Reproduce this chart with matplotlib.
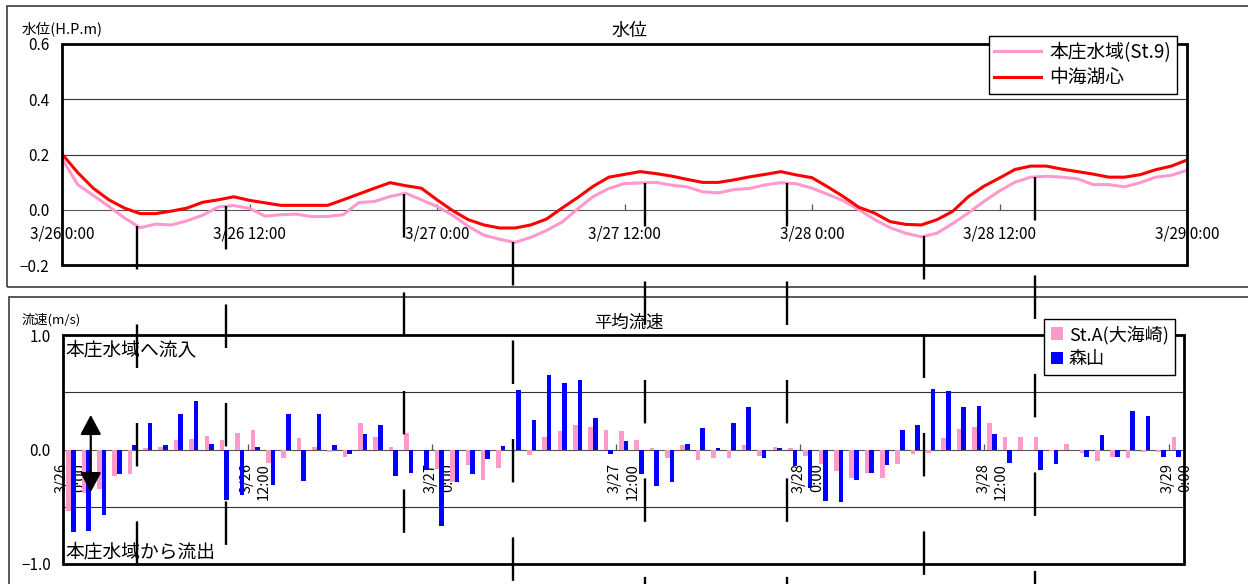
import numpy as np
import matplotlib
matplotlib.use("Agg")
import matplotlib.pyplot as plt
from matplotlib.patches import Rectangle, FancyArrowPatch
from matplotlib.lines import Line2D

plt.rcParams["font.family"] = ["Noto Sans CJK JP", "DejaVu Sans"]
plt.rcParams["lines.scale_dashes"] = False

# ---- water level (H.P. m), hourly from 3/26 0:00 to 3/29 0:00 ----
hours = np.arange(73)
honjo_level = [
    0.185, 0.091, 0.052, 0.012, -0.030, -0.065, -0.052, -0.055, -0.040, -0.020,
    0.010, 0.015, 0.005, -0.023, -0.018, -0.016, -0.025, -0.024, -0.018, 0.026,
    0.030, 0.048, 0.060, 0.036, 0.012, -0.020, -0.060, -0.092, -0.107, -0.118,
    -0.100, -0.075, -0.045, 0.003, 0.048, 0.077, 0.095, 0.097, 0.099, 0.089,
    0.083, 0.065, 0.061, 0.073, 0.077, 0.090, 0.098, 0.094, 0.078, 0.056,
    0.033, 0.000, -0.035, -0.065, -0.085, -0.098, -0.085, -0.050, -0.012, 0.030,
    0.068, 0.100, 0.118, 0.121, 0.118, 0.112, 0.091, 0.091, 0.083, 0.098,
    0.118, 0.125, 0.143,
]
nakaumi_level = [
    0.202, 0.135, 0.078, 0.036, 0.006, -0.014, -0.014, -0.005, 0.006, 0.027,
    0.036, 0.047, 0.034, 0.025, 0.016, 0.016, 0.016, 0.016, 0.036, 0.057,
    0.078, 0.098, 0.087, 0.078, 0.036, -0.003, -0.036, -0.055, -0.066, -0.066,
    -0.055, -0.034, 0.006, 0.044, 0.085, 0.118, 0.128, 0.138, 0.131, 0.122,
    0.110, 0.099, 0.099, 0.108, 0.119, 0.128, 0.138, 0.126, 0.116, 0.083,
    0.048, 0.009, -0.012, -0.043, -0.053, -0.055, -0.036, -0.006, 0.047, 0.085,
    0.115, 0.146, 0.158, 0.158, 0.147, 0.138, 0.129, 0.118, 0.118, 0.127,
    0.145, 0.158, 0.180,
]
level_ticks = [0, 12, 24, 36, 48, 60, 72]
level_tick_labels = ["3/26 0:00", "3/26 12:00", "3/27 0:00", "3/27 12:00",
                     "3/28 0:00", "3/28 12:00", "3/29 0:00"]
level_yticks = [-0.2, 0.0, 0.2, 0.4, 0.6]
level_ytick_labels = ["\u22120.2", "0.0", "0.2", "0.4", "0.6"]

# ---- mean flow velocity (m/s), hourly ----
st_a_flow = [
    -0.535, -0.376, -0.347, -0.231, -0.211, 0.014, 0.020, 0.087, 0.095, 0.116,
    0.084, 0.145, 0.173, -0.116, -0.078, 0.101, 0.026, -0.020, -0.066, 0.230,
    0.110, 0.026, 0.146, 0.000, -0.173, -0.280, -0.136, -0.263, -0.159, 0.000,
    -0.050, 0.107, 0.160, 0.217, 0.197, 0.172, 0.165, 0.087, 0.014, -0.073,
    0.043, -0.090, -0.078, -0.075, 0.038, -0.058, 0.020, 0.009, -0.058, -0.130,
    -0.188, -0.246, -0.205, -0.246, -0.130, -0.038, -0.029, 0.101, 0.179, 0.199,
    0.231, 0.113, 0.113, 0.113, -0.014, 0.049, -0.029, -0.101, -0.066, -0.072,
    -0.023, -0.020, 0.113,
]
moriyama_flow = [
    -0.720, -0.708, -0.572, -0.211, 0.038, 0.231, 0.035, 0.309, 0.425, 0.052,
    -0.439, -0.400, 0.020, -0.309, 0.309, -0.275, 0.309, 0.043, -0.036, 0.139,
    0.217, -0.231, -0.202, -0.175, -0.665, -0.280, -0.211, -0.087, 0.032, 0.521,
    0.261, 0.651, 0.579, 0.606, 0.275, -0.035, 0.078, -0.217, -0.315, -0.287,
    0.052, 0.192, 0.017, 0.231, 0.367, -0.078, 0.010, -0.145, -0.339, -0.454,
    -0.460, -0.269, -0.205, -0.136, 0.168, 0.211, 0.529, 0.514, 0.367, 0.384,
    0.136, -0.116, 0.000, -0.176, -0.125, 0.000, -0.064, 0.124, -0.064, 0.338,
    0.295, -0.064, -0.064,
]
flow_tick_labels = ["3/26\n0:00", "3/26\n12:00", "3/27\n0:00", "3/27\n12:00",
                    "3/28\n0:00", "3/28\n12:00", "3/29\n0:00"]
flow_yticks = [-1.0, 0.0, 1.0]
flow_ytick_labels = ["\u22121.0", "0.0", "1.0"]

# hours of the tidal turning points marked across both panels
tide_marks = [4.8, 10.47, 21.9, 28.84, 37.3, 46.4, 55.15, 62.25]

PINK = "#FF99CC"
RED = "#FF0000"
BLUE = "#0000FF"

W, H = 1248, 584
fig = plt.figure(figsize=(W / 100, H / 100), dpi=100)
fig.patch.set_facecolor("white")


def px_rect(x0, y0, x1, y1):
    """Pixel box (origin top-left) -> figure-fraction [left, bottom, width, height]."""
    return [x0 / W, 1 - y1 / H, (x1 - x0) / W, (y1 - y0) / H]


# outer frames of the two chart panels
for (x0, y0, x1, y1) in [(7, 5.7, 1270, 287), (9, 297, 1270, 620)]:
    l, b, w, h = px_rect(x0, y0, x1, y1)
    fig.add_artist(Rectangle((l, b), w, h, transform=fig.transFigure,
                             fill=False, ec="#3c3c3c", lw=1.2, zorder=1))

# ================= water level panel =================
ax1 = fig.add_axes(px_rect(62, 44, 1187, 265))
l_honjo, = ax1.plot(hours, honjo_level, color=PINK, lw=2.2, label="本庄水域(St.9)", zorder=3)
l_naka, = ax1.plot(hours, nakaumi_level, color=RED, lw=2.2, label="中海湖心", zorder=3)
ax1.set_xlim(0, 72)
ax1.set_ylim(-0.2, 0.6)
for yv in (0.2, 0.4):
    ax1.axhline(yv, color="#333333", lw=0.8, zorder=1)
for s in ("top", "left", "right"):
    ax1.spines[s].set_visible(False)
ax1.spines["bottom"].set_position(("data", 0))
ax1.spines["bottom"].set_color("#555555")
ax1.spines["bottom"].set_linewidth(0.8)
ax1.add_patch(Rectangle((0, 0), 1, 1, transform=ax1.transAxes, fill=False,
                        ec="black", lw=2.0, clip_on=False, zorder=4))
ax1.set_xticks(level_ticks)
ax1.set_xticklabels(level_tick_labels)
ax1.tick_params(axis="x", direction="in", length=4, width=0.9, color="#555555",
                pad=11, labelsize=11)
ax1.set_yticks(level_yticks)
ax1.set_yticklabels(level_ytick_labels)
ax1.tick_params(axis="y", length=0, pad=9, labelsize=11)

fig.text(629 / W, 1 - 31 / H, "水位", ha="center", va="center", fontsize=13)
fig.text(22 / W, 1 - 29 / H, "水位(H.P.m)", ha="left", va="center", fontsize=10.5)

fig.legend(handles=[l_honjo, l_naka], loc="upper right",
           bbox_to_anchor=(1177 / W, 1 - 36 / H), bbox_transform=fig.transFigure,
           fontsize=13.5, frameon=True, fancybox=False, shadow=False,
           edgecolor="black", framealpha=1, handlelength=2.5, handletextpad=0.45,
           labelspacing=0.25, borderpad=0.3, borderaxespad=0)

# ================= flow velocity panel =================
ax2 = fig.add_axes(px_rect(63.3, 335, 1184, 564))
cats = np.arange(len(st_a_flow))
bw = 0.3
b_sta = ax2.bar(cats - bw / 2, st_a_flow, width=bw, color=PINK, label="St.A(大海崎)", zorder=3)
b_mor = ax2.bar(cats + bw / 2, moriyama_flow, width=bw, color=BLUE, label="森山", zorder=3)
ax2.set_xlim(-0.5, len(cats) - 0.5)
ax2.set_ylim(-1.0, 1.0)
for yv in (0.5, -0.5):
    ax2.axhline(yv, color="#333333", lw=0.8, zorder=1)
for s in ("top", "left", "right"):
    ax2.spines[s].set_visible(False)
ax2.spines["bottom"].set_position(("data", 0))
ax2.spines["bottom"].set_color("#555555")
ax2.spines["bottom"].set_linewidth(0.8)
ax2.add_patch(Rectangle((0, 0), 1, 1, transform=ax2.transAxes, fill=False,
                        ec="black", lw=2.0, clip_on=False, zorder=4))
ax2.set_xticks(cats[::12])
ax2.set_xticklabels(flow_tick_labels, rotation=90)
for lab in ax2.get_xticklabels():
    lab.set_multialignment("right")
    lab.set_linespacing(1.35)
ax2.set_xticks(cats[::12][1:] - 0.5, minor=True)
ax2.tick_params(axis="x", which="major", length=0, pad=10, labelsize=10.5)
ax2.tick_params(axis="x", which="minor", direction="in", length=4, width=0.9,
                color="#555555")
ax2.set_yticks(flow_yticks)
ax2.set_yticklabels(flow_ytick_labels)
ax2.tick_params(axis="y", length=0, pad=9, labelsize=11)

ax2.text(0.0015, 0.934, "本庄水域へ流入", transform=ax2.transAxes,
         ha="left", va="center", fontsize=13.5, zorder=5)
ax2.text(0.0015, 0.052, "本庄水域から流出", transform=ax2.transAxes,
         ha="left", va="center", fontsize=13.5, zorder=5)
ax2.add_patch(FancyArrowPatch((0.0245, 0.314), (0.0245, 0.651), transform=ax2.transAxes,
                              arrowstyle="<|-|>,head_length=0.6,head_width=0.32",
                              mutation_scale=20, lw=1.6, color="black",
                              shrinkA=0, shrinkB=0, clip_on=False, zorder=6))

fig.text(22 / W, 1 - 320 / H, "流速(m/s)", ha="left", va="center", fontsize=9.5)
fig.text(629 / W, 1 - 323 / H, "平均流速", ha="center", va="center", fontsize=12.5)

fig.legend(handles=[b_sta, b_mor], loc="upper right",
           bbox_to_anchor=(1175 / W, 1 - 319 / H), bbox_transform=fig.transFigure,
           fontsize=13, frameon=True, fancybox=False, shadow=False,
           edgecolor="black", framealpha=1, handlelength=0.7, handleheight=0.7,
           handletextpad=0.3, labelspacing=0.35, borderpad=0.35, borderaxespad=0)

# dashed marker lines from each turning point down through the flow panel
to_fig = ax1.transData + fig.transFigure.inverted()
for hm in tide_marks:
    lvl = np.interp(hm, hours, honjo_level)
    xf, yf = to_fig.transform((hm, lvl))
    fig.add_artist(Line2D([xf, xf], [yf, -0.02], transform=fig.transFigure,
                          color="black", lw=1.7, linestyle=(0, (31.3, 39.6)),
                          solid_capstyle="butt", dash_capstyle="butt", zorder=10))

fig.savefig("out.png", dpi=100, facecolor="white")
